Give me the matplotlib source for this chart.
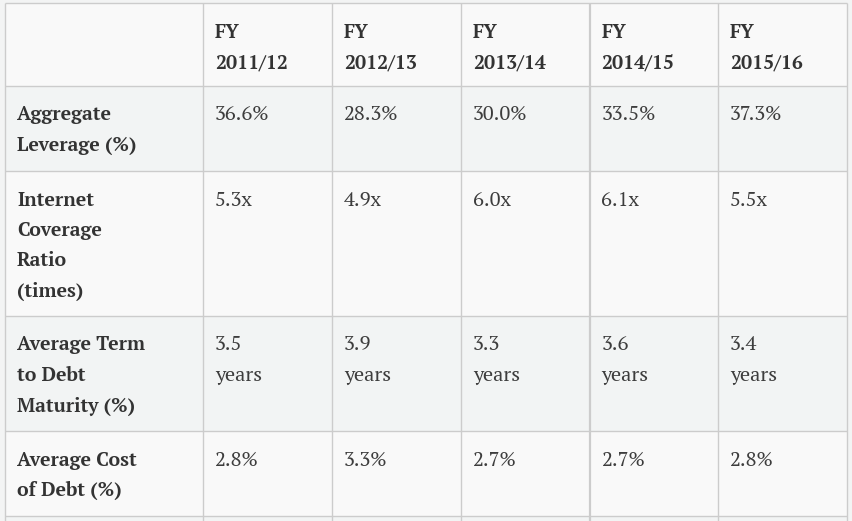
import matplotlib
matplotlib.use("Agg")
import matplotlib.pyplot as plt
from matplotlib.patches import Rectangle

# ---- data ----
col_headers = ["FY\n2011/12", "FY\n2012/13", "FY\n2013/14", "FY\n2014/15", "FY\n2015/16"]
row_labels = [
    "Aggregate\nLeverage (%)",
    "Internet\nCoverage\nRatio\n(times)",
    "Average Term\nto Debt\nMaturity (%)",
    "Average Cost\nof Debt (%)",
]
aggregate_leverage = ["36.6%", "28.3%", "30.0%", "33.5%", "37.3%"]
interest_coverage = ["5.3x", "4.9x", "6.0x", "6.1x", "5.5x"]
avg_term_to_maturity = ["3.5\nyears", "3.9\nyears", "3.3\nyears", "3.6\nyears", "3.4\nyears"]
avg_cost_of_debt = ["2.8%", "3.3%", "2.7%", "2.7%", "2.8%"]
table_values = [aggregate_leverage, interest_coverage, avg_term_to_maturity, avg_cost_of_debt]

# ---- layout (pixel coordinates) ----
W, H = 853, 521
col_edges = [5.5, 203.5, 332.5, 461.5, 590, 718.5, 847.5]
row_edges = [3, 86, 171, 316, 431, 516, 560]
page_bg = "#f3f4f4"
light = "#f9f9f9"
grey = "#f2f4f4"
border = "#cccccc"
text_color = "#333333"
value_color = "#3d3d3d"
fs_bold = 14.0
fs_reg = 14.7
family = ["PT Serif", "DejaVu Serif"]
baseline_off = 34.5
line_h = 30.5
pad = 11.5

fig = plt.figure(figsize=(W / 100, H / 100), dpi=100)
fig.patch.set_facecolor(page_bg)
ax = fig.add_axes([0, 0, 1, 1])
ax.set_xlim(0, W)
ax.set_ylim(H, 0)
ax.axis("off")

row_fills = [light, grey, light, grey, light, grey]
for r in range(len(row_edges) - 1):
    y0, y1 = row_edges[r], row_edges[r + 1]
    ax.add_patch(Rectangle((col_edges[0], y0), col_edges[-1] - col_edges[0], y1 - y0,
                           facecolor=row_fills[r], edgecolor="none", zorder=0))

for y in row_edges[:-1]:
    ax.plot([col_edges[0], col_edges[-1]], [y, y], color=border, lw=1.0, zorder=1,
            solid_capstyle="butt")
for i, x in enumerate(col_edges):
    lw = 1.6 if i == 4 else 1.0
    ax.plot([x, x], [row_edges[0], H + 5], color=border, lw=lw, zorder=1,
            solid_capstyle="butt")


def put(text, x, top, bold, color):
    for k, line in enumerate(text.split("\n")):
        ax.text(x, top + baseline_off + k * line_h, line,
                fontsize=fs_bold if bold else fs_reg, family=family,
                fontweight="bold" if bold else "normal", color=color,
                ha="left", va="baseline", zorder=2)


for c, h in enumerate(col_headers):
    put(h, col_edges[c + 1] + pad, row_edges[0], True, text_color)

for r, lab in enumerate(row_labels):
    top = row_edges[r + 1]
    put(lab, col_edges[0] + pad, top, True, text_color)
    for c, v in enumerate(table_values[r]):
        put(v, col_edges[c + 1] + pad, top, False, value_color)

fig.savefig("out.png", dpi=100, facecolor=page_bg)
